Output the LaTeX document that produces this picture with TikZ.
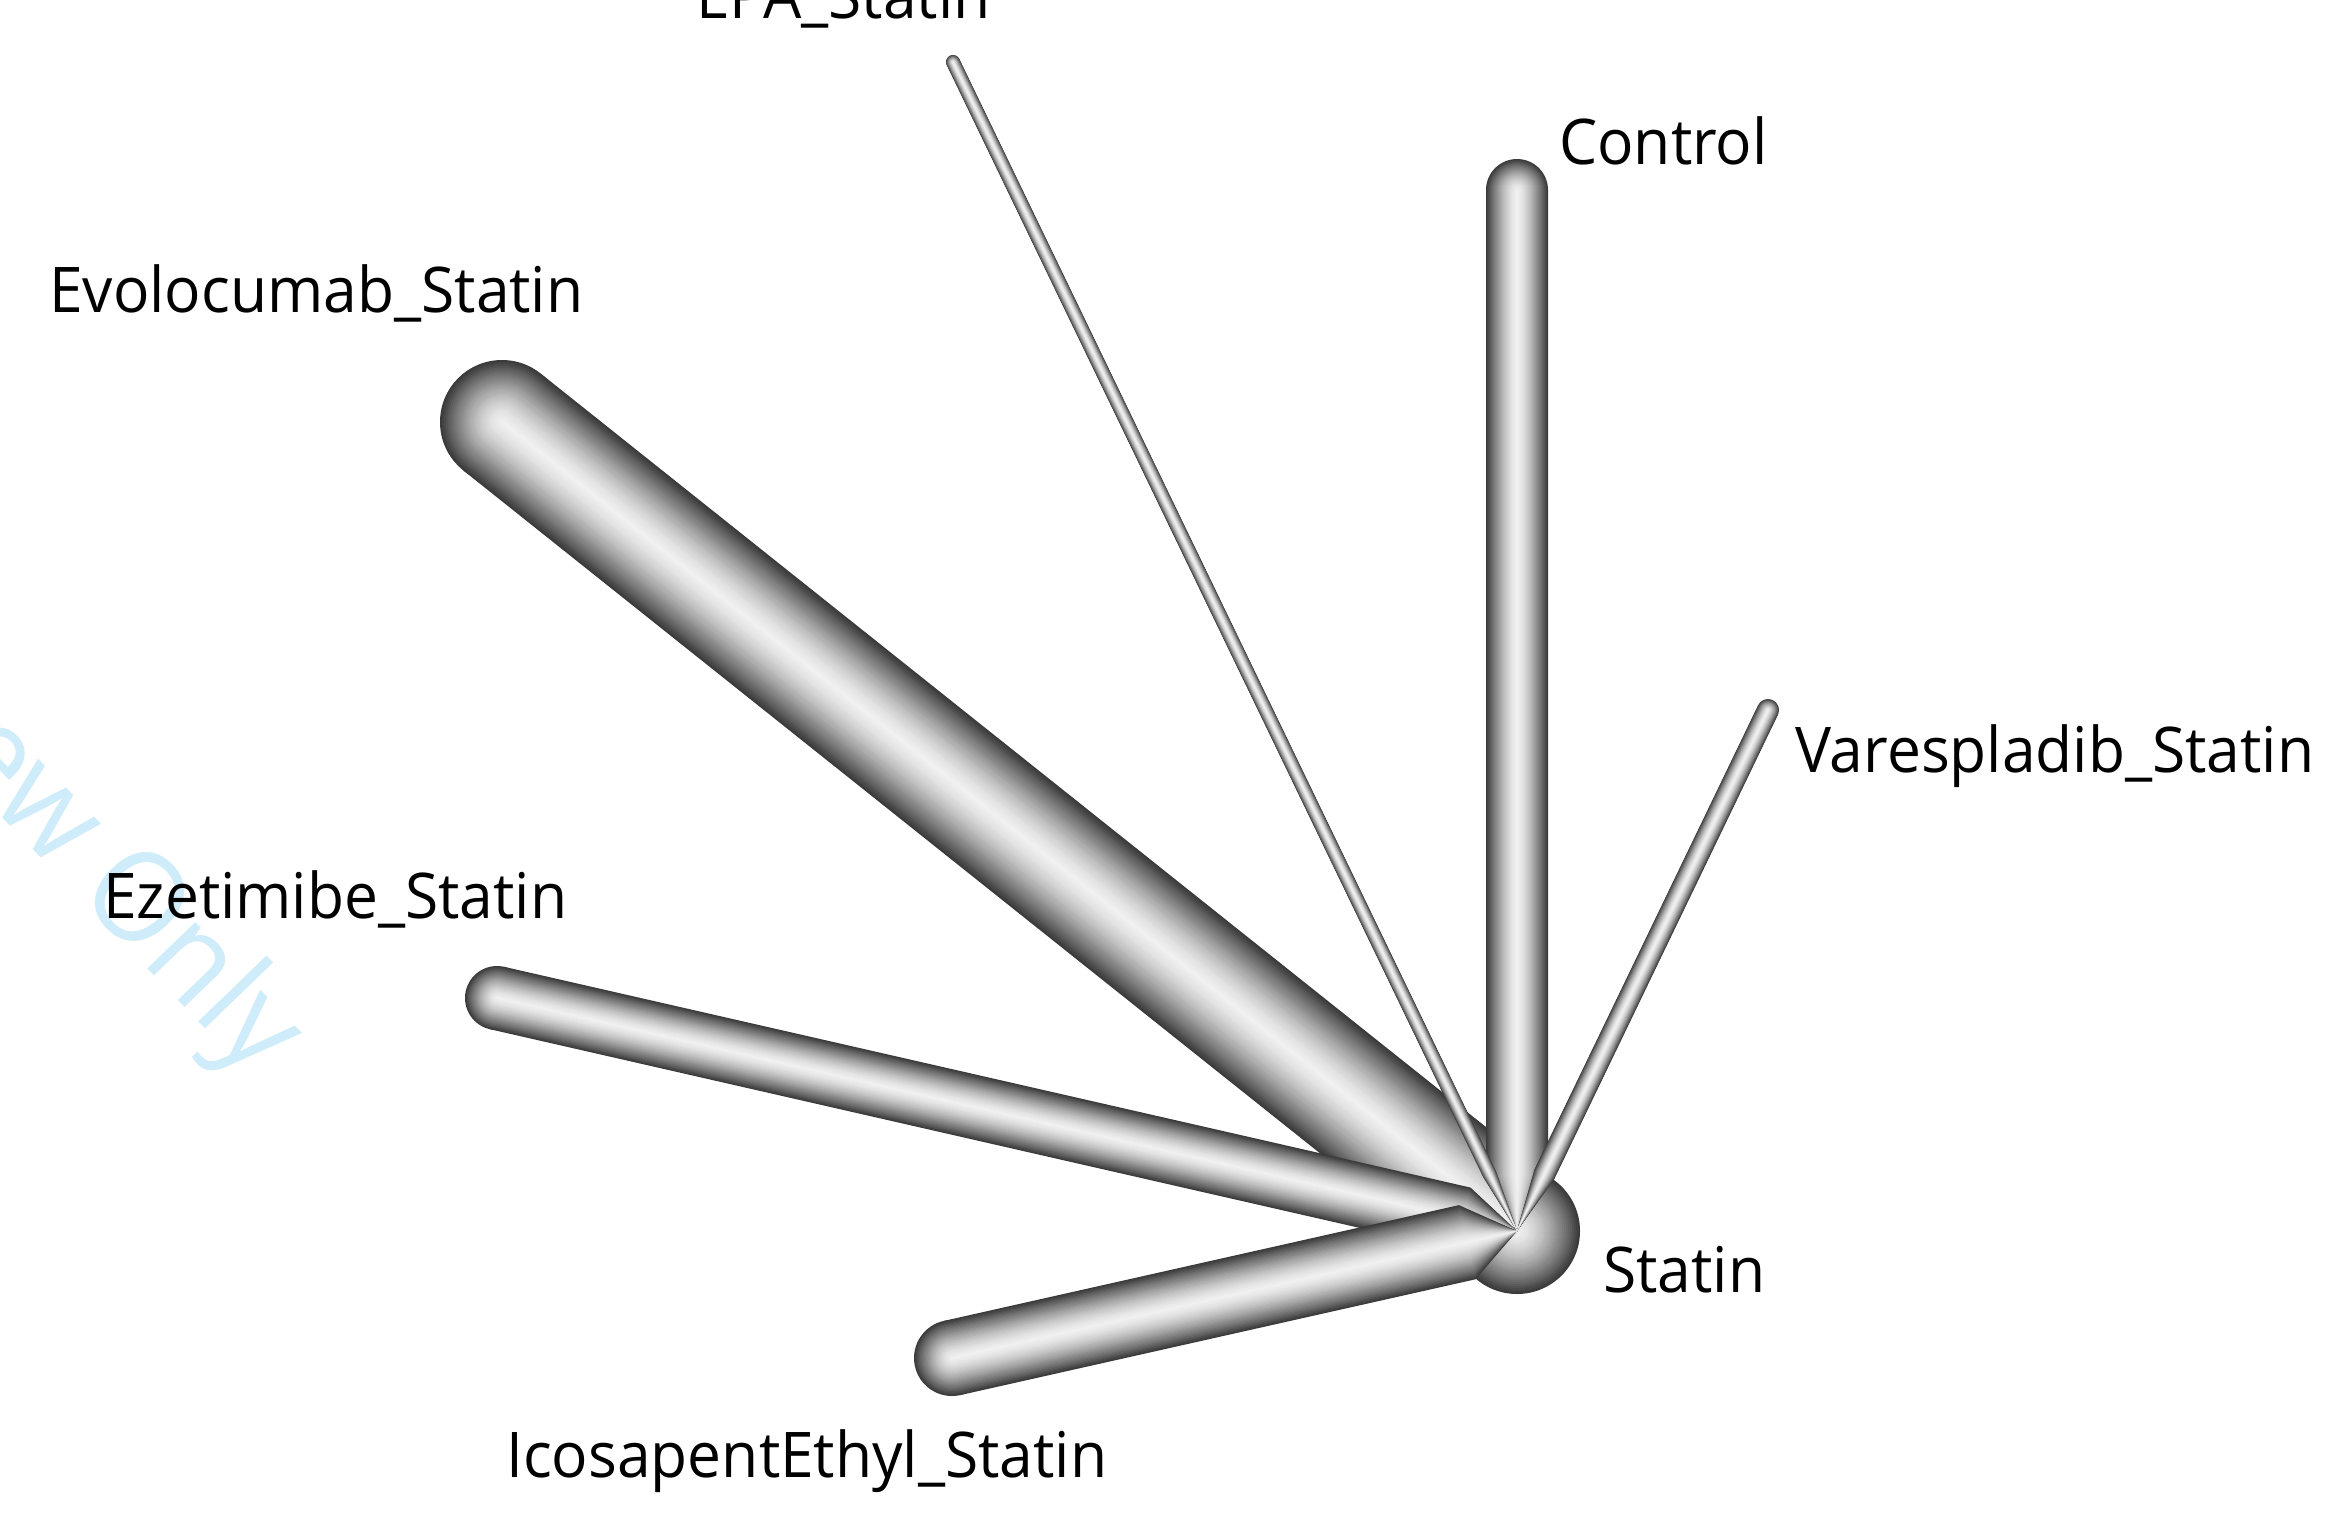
\documentclass[tikz,border=0pt]{standalone}
\usepackage{fontspec}
\usetikzlibrary{calc}
\setmainfont{Open Sans}[FakeStretch=0.96]
\definecolor{wmblue}{RGB}{206,236,250}
% #1 hub, #2 outer end, #3 width, #4 taper start distance from hub
\newcommand{\tubeline}[4]{%
  \coordinate (tp-#2) at ($(#1)!#4pt!(#2)$);
  \foreach \k in {0,...,31}{%
    \pgfmathsetmacro{\dd}{1-\k/32}%
    \pgfmathsetmacro{\hh}{#3*\dd/2}%
    \pgfmathtruncatemacro{\gg}{95-72*\dd^1.5}%
    \fill[tube, white!\gg!black] (#1)
      -- ($(tp-#2)!\hh pt!-90:(#2)$)
      -- ($(#2)!\hh pt!90:(tp-#2)$)
      -- ($(#2)!\hh pt!-90:(tp-#2)$)
      -- ($(tp-#2)!\hh pt!90:(#2)$) -- cycle;
    \fill[tube, white!\gg!black] (#2) circle[radius=\hh pt];
  }}
\tikzset{
  tube/.style={draw=none},
  lbl/.style={font=\fontsize{63}{75}\selectfont, anchor=base west, inner sep=0pt, text=black},
  wmark/.style={font=\fontsize{125}{140}\selectfont, text=wmblue, inner sep=0pt}
}
\begin{document}
\begin{tikzpicture}[x=1pt,y=-1pt]
\useasboundingbox (0,0) rectangle (2332,1516);
\begin{scope}
\clip (0,0) rectangle (2332,1516);
\node[wmark, rotate=-46, anchor=base east] (wm) at (255,1080) {For Peer Review Only};
\end{scope}
% endpoints
\coordinate (statin) at (1517,1231);
\coordinate (control) at (1517,190);
\coordinate (epa) at (953,62);
\coordinate (evolo) at (502,422);
\coordinate (ezeti) at (497,998);
\coordinate (icosa) at (952,1358);
\coordinate (vares) at (1768,710);
% hub sphere
\foreach \k in {0,...,31}{%
  \pgfmathsetmacro{\dd}{1-\k/32}%
  \pgfmathsetmacro{\rr}{63*\dd}%
  \pgfmathtruncatemacro{\gg}{95-72*\dd^1.5}%
  \fill[white!\gg!black] (statin) circle[radius=\rr pt];
}
% edges
\tubeline{statin}{evolo}{124}{16}
\tubeline{statin}{ezeti}{64}{55}
\tubeline{statin}{icosa}{76}{51}
\tubeline{statin}{control}{62}{56}
\tubeline{statin}{epa}{14}{63}
\tubeline{statin}{vares}{22}{63}
% labels
\node[lbl] (l-epa) at (696,18) {EPA\_Statin};
\node[lbl] (l-control) at (1559,164) {Control};
\node[lbl] (l-evolo) at (49,312) {Evolocumab\_Statin};
\node[lbl] (l-vares) at (1795,772) {Varespladib\_Statin};
\node[lbl] (l-ezeti) at (103,918) {Ezetimibe\_Statin};
\node[lbl] (l-statin) at (1603,1292) {Statin};
\node[lbl] (l-icosa) at (506,1477) {IcosapentEthyl\_Statin};
\end{tikzpicture}
\end{document}
